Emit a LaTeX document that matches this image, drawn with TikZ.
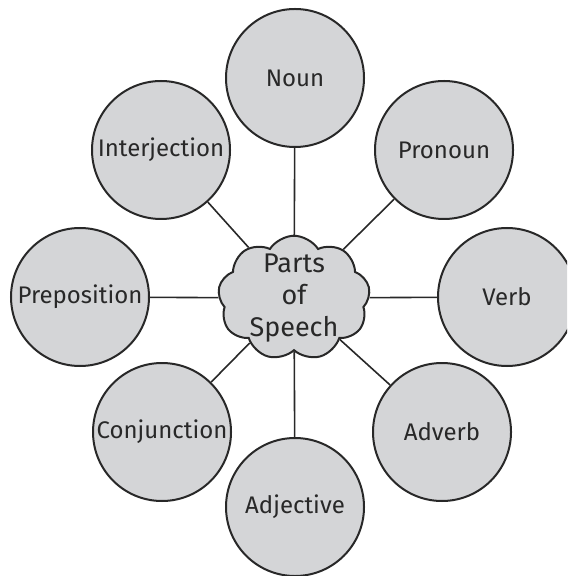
\documentclass[tikz,border=0pt]{standalone}
\usepackage{fontspec}
\setmainfont{Fira Sans}
\usetikzlibrary{shapes.symbols}
\definecolor{bubblegray}{RGB}{212,213,215}
\definecolor{inkgray}{RGB}{40,40,40}

\begin{document}
\begin{tikzpicture}[
                x=0.5pt,y=-0.5pt,
                word/.style={circle,draw=inkgray,line width=1pt,fill=bubblegray,minimum size=69pt,
                    inner sep=0pt,text=inkgray,font=\fontsize{12}{14}\selectfont},
                hub/.style={cloud,cloud puffs=9,cloud puff arc=115,aspect=1.3,draw=inkgray,line width=1pt,
                    fill=bubblegray,align=center,inner sep=-3.5pt,minimum width=76pt,minimum height=58pt,
                    text=inkgray,font=\fontsize{13.5}{16}\selectfont}
            ]
                \clip (0,0) rectangle (567,576);

                \node[hub] (pos) at (294,298) {Parts\\of\\Speech};

                \node[word] (noun)   at (295,78)  {Noun};
                \node[word] (pron)   at (444,150) {Pronoun};
                \node[word] (verb)   at (507,297) {Verb};
                \node[word] (adverb) at (442,432) {Adverb};
                \node[word] (adj)    at (295,507) {Adjective};
                \node[word] (conj)   at (162,432) {Conjunction};
                \node[word] (prep)   at (80,297)  {Preposition};
                \node[word] (interj) at (161,150) {Interjection};

                \begin{scope}[line width=0.8pt,draw=inkgray]
                    \draw (pos) -- (noun);
                    \draw (pos) -- (pron);
                    \draw (pos) -- (verb);
                    \draw (pos) -- (adverb);
                    \draw (pos) -- (adj);
                    \draw (pos) -- (conj);
                    \draw (pos) -- (prep);
                    \draw (pos) -- (interj);
                \end{scope}
            \end{tikzpicture}
\end{document}
